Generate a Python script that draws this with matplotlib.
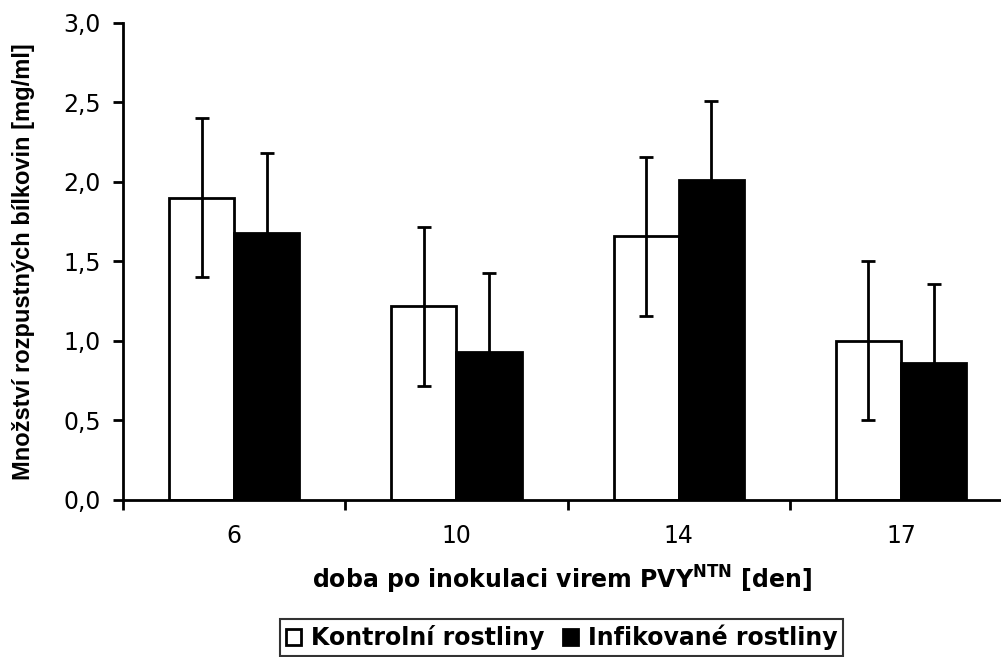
import matplotlib
matplotlib.use("Agg")
import matplotlib.pyplot as plt
import numpy as np

categories = ["6", "10", "14", "17"]
kontrolni = [1.90, 1.22, 1.66, 1.00]
kontrolni_err = [0.50, 0.50, 0.50, 0.50]
infikovane = [1.68, 0.93, 2.01, 0.86]
infikovane_err = [0.50, 0.50, 0.50, 0.50]

plt.rcParams['font.family'] = ['DejaVu Sans']

fig = plt.figure(figsize=(10.01, 6.57), dpi=100)
ax = fig.add_axes([0.1229, 0.239, 1 - 0.1229, 0.726])

x = np.arange(len(categories))
w = 0.293
ax.bar(x - w / 2, kontrolni, w, color='white', edgecolor='black', linewidth=2,
       label='Kontrolní rostliny', zorder=2)
ax.bar(x + w / 2, infikovane, w, color='black', edgecolor='black', linewidth=2,
       label='Infikované rostliny', zorder=2)
ax.errorbar(x - w / 2, kontrolni, yerr=kontrolni_err, fmt='none', ecolor='black',
            elinewidth=2, capsize=5, capthick=2, zorder=3)
ax.errorbar(x + w / 2, infikovane, yerr=infikovane_err, fmt='none', ecolor='black',
            elinewidth=2, capsize=5, capthick=2, zorder=3)

ax.set_xlim(-0.5, 3.45)
ax.set_ylim(0, 3.0)
yt = np.arange(0, 3.01, 0.5)
ax.set_yticks(yt)
ax.set_yticklabels([f"{v:.1f}".replace('.', ',') for v in yt], fontsize=17)
ax.set_xticks(x)
ax.set_xticklabels(categories, fontsize=17)
ax.tick_params(axis='x', which='major', length=0, pad=17)
ax.set_xticks(np.arange(-0.5, 3.0, 1.0), minor=True)
ax.tick_params(axis='x', which='minor', length=7, width=2, direction='out')
ax.tick_params(axis='y', which='major', length=7, width=2, direction='out', pad=9)

for s in ['top', 'right']:
    ax.spines[s].set_visible(False)
for s in ['left', 'bottom']:
    ax.spines[s].set_linewidth(2)

ax.set_ylabel("Množství rozpustných bílkovin [mg/ml]", fontsize=17,
              fontweight='bold', family='Liberation Sans', labelpad=20)
ax.set_xlabel(r"doba po inokulaci virem PVY$^{\mathbf{NTN}}$ [den]", fontsize=17,
              fontweight='bold', labelpad=12)

leg = fig.legend(loc='upper center', bbox_to_anchor=(0.561, 0.058), ncol=2,
                 prop={'weight': 'bold', 'size': 17},
                 frameon=True, fancybox=False, handlelength=0.65, handleheight=0.65,
                 handletextpad=0.4, columnspacing=0.8, borderpad=0.25,
                 borderaxespad=0)
leg.get_frame().set_edgecolor('black')
leg.get_frame().set_linewidth(1.5)

fig.savefig("out.png", dpi=100)
